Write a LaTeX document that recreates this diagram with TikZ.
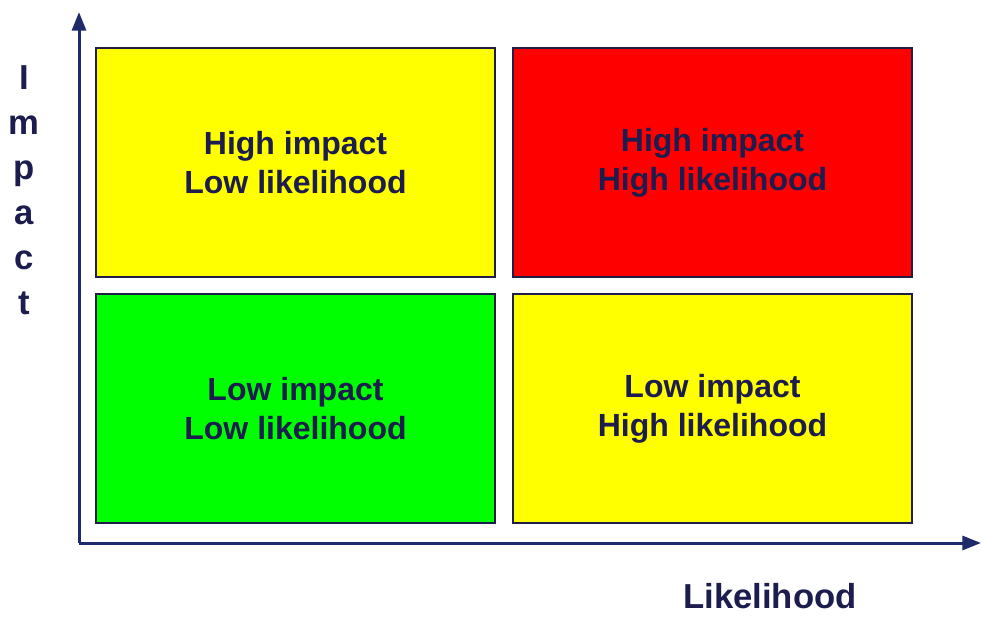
\documentclass[tikz,border=0pt]{standalone}
\usepackage{fontspec}
\setmainfont{Liberation Sans}
\usetikzlibrary{arrows.meta}

\definecolor{axisblue}{HTML}{1F2A6B}
\definecolor{boxedge}{HTML}{1E1E48}
\definecolor{labelnavy}{HTML}{1C1C4E}
\definecolor{riskyellow}{HTML}{FFFF00}
\definecolor{riskred}{HTML}{FF0000}
\definecolor{riskgreen}{HTML}{00FF00}

\begin{document}
\begin{tikzpicture}[x=0.75pt, y=-0.75pt,
    quad/.style={draw=boxedge, line width=1.5pt, minimum width=299.25pt,
        minimum height=171.75pt, inner sep=0pt, align=center, text=labelnavy,
        font=\fontsize{24}{29}\selectfont\bfseries},
    axislabel/.style={text=labelnavy, inner sep=0pt, align=center,
        font=\fontsize{26}{33.75}\selectfont\bfseries},
    axis/.style={draw=axisblue, line width=2.25pt,
        -{Triangle[width=10.5pt,length=14pt]}}]
    \useasboundingbox (0,0) rectangle (982,617);
    \fill[white] (0,0) rectangle (982,617);

    % axes
    \coordinate (origin) at (79,543);
    \coordinate (ytip) at (79,12);
    \coordinate (xtip) at (981,543);
    \draw[axis] (origin) -- (ytip);
    \draw[axis] (origin) -- (xtip);

    % the four quadrants
    \node[quad, fill=riskyellow] (hilo) at (295.5,162.5) {High impact\\Low likelihood};
    \node[quad, fill=riskred] (hihi) at (712.5,162.5) {High impact\\High likelihood};
    \node[quad, fill=riskgreen] (lolo) at (295.5,408.5) {Low impact\\Low likelihood};
    \node[quad, fill=riskyellow] (lohi) at (712.5,408.5) {Low impact\\High likelihood};

    % axis labels
    \node[axislabel] (impact) at (24,190) {I\\m\\p\\a\\c\\t};
    \node[axislabel] (likelihood) at (770,596) {Likelihood};
\end{tikzpicture}
\end{document}
